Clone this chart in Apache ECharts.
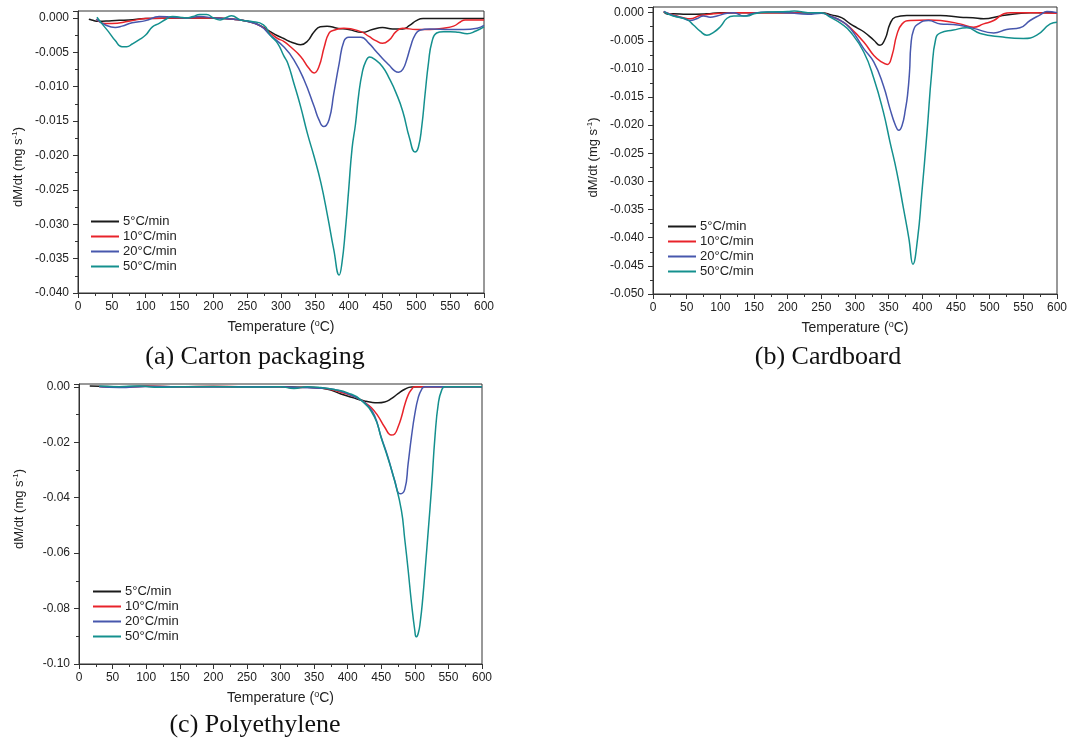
<!DOCTYPE html>
<html>
<head>
<meta charset="utf-8">
<script src="https://cdn.jsdelivr.net/npm/echarts@6/dist/echarts.min.js"></script>
<style>
html,body{margin:0;padding:0;background:#fff;}
#chart{width:1071px;height:740px;}
</style>
</head>
<body>
<div id="chart"></div>
<script>
// ---------- DATA ----------
const seriesNames = ['5°C/min', '10°C/min', '20°C/min', '50°C/min'];
const captions = ['(a) Carton packaging', '(b) Cardboard', '(c) Polyethylene'];
const xTicks = [0, 50, 100, 150, 200, 250, 300, 350, 400, 450, 500, 550, 600];

// (a) Carton packaging: [temperature °C, dM/dt mg/s]
const carton5 = [[16,-0.0002],[20,-0.0003],[30,-0.0005],[50,-0.0004],[75,-0.0003],[100,-0.0001],[150,0],[200,0],[230,-0.0002],[250,-0.0005],[265,-0.0009],[284,-0.002],[295,-0.0026],[304,-0.003],[312,-0.0034],[320,-0.0037],[329,-0.0039],[339,-0.0034],[349,-0.002],[358,-0.0013],[368,-0.0012],[383,-0.0015],[400,-0.0017],[420,-0.0021],[435,-0.0017],[450,-0.0014],[465,-0.0016],[480,-0.0016],[490,-0.0011],[500,-0.0004],[510,-0.0001],[550,-0.0001],[600,-0.0001]];
const carton10 = [[27,-0.0002],[40,-0.0008],[50,-0.0008],[75,-0.0005],[100,-0.0001],[150,0],[200,0],[230,-0.0002],[250,-0.0005],[270,-0.0012],[284,-0.0022],[295,-0.003],[304,-0.0034],[314,-0.0042],[329,-0.0056],[341,-0.0073],[349,-0.008],[356,-0.0071],[364,-0.0042],[371,-0.0022],[378,-0.0018],[393,-0.0015],[418,-0.002],[430,-0.0027],[440,-0.0033],[450,-0.0037],[460,-0.0032],[470,-0.002],[480,-0.0015],[500,-0.0017],[520,-0.0017],[540,-0.0015],[555,-0.0012],[565,-0.0006],[572,-0.0003],[600,-0.0003]];
const carton20 = [[27,-0.0002],[40,-0.001],[55,-0.0014],[65,-0.0012],[80,-0.0007],[100,-0.0004],[120,0.0002],[140,0.0001],[160,0],[180,0.0002],[200,0],[230,-0.0002],[250,-0.0005],[270,-0.0012],[284,-0.0025],[304,-0.0042],[319,-0.0061],[334,-0.009],[349,-0.0129],[356,-0.0148],[363,-0.0158],[371,-0.0148],[378,-0.011],[386,-0.0066],[393,-0.0034],[400,-0.0028],[418,-0.0028],[430,-0.0037],[440,-0.0048],[450,-0.0059],[460,-0.0069],[468,-0.0077],[474,-0.0079],[480,-0.0075],[486,-0.006],[492,-0.004],[498,-0.0025],[505,-0.0018],[520,-0.0016],[550,-0.0017],[570,-0.0017],[590,-0.0015],[600,-0.0011]];
const carton50 = [[28,0.0001],[35,-0.0008],[45,-0.002],[55,-0.0033],[65,-0.0042],[72,-0.0042],[80,-0.0038],[90,-0.0032],[100,-0.0025],[110,-0.0013],[120,-0.0008],[130,-0.0002],[140,0.0002],[150,0.0001],[160,0],[170,0.0002],[180,0.0005],[190,0.0005],[200,0],[210,-0.0003],[220,0.0001],[227,0.0003],[240,-0.0003],[255,-0.0005],[274,-0.001],[284,-0.0025],[295,-0.0037],[304,-0.0055],[310,-0.0066],[319,-0.0095],[329,-0.0129],[339,-0.0168],[349,-0.0202],[359,-0.024],[369,-0.0289],[378,-0.0337],[386,-0.0374],[390,-0.0357],[395,-0.031],[400,-0.025],[405,-0.019],[410,-0.0155],[415,-0.011],[420,-0.008],[425,-0.0064],[431,-0.0057],[438,-0.006],[450,-0.0071],[460,-0.0088],[470,-0.0109],[480,-0.0136],[490,-0.0175],[498,-0.0195],[503,-0.0188],[508,-0.0158],[513,-0.011],[518,-0.0065],[523,-0.0035],[530,-0.0022],[540,-0.002],[550,-0.002],[562,-0.0021],[575,-0.0023],[588,-0.0019],[600,-0.0013]];

// (b) Cardboard
const card5 = [[16,0.0002],[22,-0.0003],[30,-0.0002],[50,-0.0003],[80,-0.0002],[100,0],[150,0],[200,0],[250,0],[265,-0.0004],[280,-0.0009],[293,-0.002],[303,-0.0027],[313,-0.0034],[328,-0.0049],[337,-0.0058],[345,-0.0046],[352,-0.002],[360,-0.0008],[377,-0.0005],[400,-0.0005],[427,-0.0005],[456,-0.0008],[475,-0.0009],[491,-0.0011],[516,-0.0006],[540,-0.0002],[560,0],[600,0]];
const card10 = [[16,0.0001],[30,-0.0004],[45,-0.0009],[55,-0.0011],[70,-0.0005],[100,-0.0001],[120,0],[200,0],[250,0],[263,-0.0006],[280,-0.0015],[293,-0.0027],[313,-0.0052],[328,-0.0076],[340,-0.0088],[348,-0.0092],[355,-0.0076],[362,-0.004],[370,-0.002],[382,-0.0014],[410,-0.0013],[427,-0.0014],[456,-0.002],[476,-0.0026],[491,-0.002],[506,-0.0014],[521,-0.0002],[531,0],[570,0],[600,-0.0001]];
const card20 = [[16,0.0002],[30,-0.0005],[45,-0.001],[55,-0.0014],[65,-0.0011],[75,-0.0006],[85,-0.0008],[95,-0.0006],[110,-0.0001],[120,0],[135,-0.0006],[150,-0.0001],[170,0.0001],[200,0],[230,-0.0003],[250,-0.0001],[263,-0.0006],[280,-0.0015],[293,-0.0028],[313,-0.0064],[328,-0.0088],[342,-0.0129],[352,-0.0171],[360,-0.02],[365,-0.0209],[370,-0.02],[375,-0.0171],[378,-0.0147],[381,-0.0105],[383,-0.0058],[387,-0.0031],[394,-0.002],[409,-0.0014],[427,-0.002],[446,-0.0021],[476,-0.0028],[506,-0.0036],[525,-0.003],[545,-0.0027],[560,-0.0014],[575,-0.0004],[585,0.0002],[600,0]];
const card50 = [[17,0.0001],[30,-0.0006],[50,-0.0012],[60,-0.0022],[70,-0.0033],[80,-0.004],[90,-0.0035],[100,-0.0025],[110,-0.001],[120,-0.0006],[140,-0.0006],[150,-0.0002],[170,0.0001],[200,0.0002],[210,0.0003],[230,0],[250,0],[263,-0.0008],[280,-0.002],[293,-0.0034],[313,-0.007],[328,-0.0117],[342,-0.0176],[352,-0.023],[362,-0.0283],[372,-0.0348],[380,-0.0401],[386,-0.0447],[393,-0.0401],[399,-0.0324],[407,-0.0212],[414,-0.0105],[420,-0.0046],[427,-0.0036],[446,-0.0031],[466,-0.0027],[486,-0.0037],[516,-0.0043],[550,-0.0046],[570,-0.004],[590,-0.002],[600,-0.0017]];

// (c) Polyethylene
const pe5 = [[16,0.0003],[30,0.0002],[60,0],[100,0.0002],[150,0],[200,0],[250,0],[300,0],[340,-0.0002],[360,-0.0005],[375,-0.0012],[390,-0.0026],[410,-0.0041],[425,-0.0051],[435,-0.0056],[445,-0.0058],[455,-0.0055],[465,-0.0043],[475,-0.0025],[485,-0.0009],[495,-0.0001],[520,0],[600,0]];
const pe10 = [[30,0.0001],[60,-0.0002],[100,0.0002],[150,0],[200,0.0002],[250,0],[300,0],[320,-0.0004],[340,-0.0002],[360,-0.0004],[375,-0.001],[390,-0.002],[410,-0.0035],[425,-0.0056],[435,-0.0075],[445,-0.0105],[455,-0.0145],[465,-0.0174],[470,-0.017],[475,-0.0145],[480,-0.011],[485,-0.0065],[490,-0.003],[495,-0.001],[500,0],[600,0]];
const pe20 = [[30,0],[60,-0.0003],[100,0.0001],[150,0],[200,0],[250,0],[300,0],[330,-0.0003],[360,-0.0005],[380,-0.001],[400,-0.0025],[420,-0.0048],[430,-0.0068],[440,-0.0104],[450,-0.0182],[460,-0.0254],[470,-0.0338],[478,-0.0386],[485,-0.037],[490,-0.0278],[495,-0.018],[500,-0.0098],[505,-0.004],[510,-0.001],[515,0],[600,0]];
const pe50 = [[30,0.0003],[60,0],[90,0.0003],[120,-0.0002],[150,0],[200,0.0001],[250,-0.0001],[300,0],[320,-0.0006],[340,0],[360,-0.0003],[380,-0.001],[400,-0.0022],[420,-0.0048],[440,-0.011],[450,-0.0185],[460,-0.0258],[470,-0.034],[480,-0.0446],[485,-0.055],[490,-0.066],[495,-0.078],[500,-0.088],[502,-0.0902],[505,-0.089],[508,-0.085],[512,-0.0758],[516,-0.064],[520,-0.0518],[525,-0.036],[530,-0.018],[535,-0.006],[540,-0.0012],[545,0],[600,0]];

const yAxisSpecs = [
  {min: -0.040, max: 0.001, interval: 0.005, decimals: 3},
  {min: -0.050, max: 0.001, interval: 0.005, decimals: 3},
  {min: -0.10, max: 0.001, interval: 0.02, decimals: 2}
];

// ---------- CHART ----------
const colors = ['#1a1a1a', '#e8232a', '#4757ad', '#14908e'];
const panels = [
  [carton5, carton10, carton20, carton50],
  [card5, card10, card20, card50],
  [pe5, pe10, pe20, pe50]
];
const grids = [
  {left: 78, top: 11, width: 406, height: 282},
  {left: 653, top: 7, width: 404, height: 287},
  {left: 79, top: 384, width: 403, height: 280}
];
const legendPos = [
  {left: 91, top: 215},
  {left: 668, top: 220},
  {left: 93, top: 585}
];
const yNamePadding = [[0, 30, 0, 0], [0, 14, 0, 0], [0, 0, 0, 30]];
const captionPos = [[255, 357], [828, 357], [255, 725]];

const axisColor = '#333';
const font = "'Liberation Sans', Arial, sans-serif";

const xAxes = grids.map((g, i) => ({
  gridIndex: i, type: 'value', min: xTicks[0], max: xTicks[xTicks.length - 1], interval: xTicks[1] - xTicks[0],
  name: 'Temperature ({sup|o}C)', nameLocation: 'middle', nameGap: 26,
  nameTextStyle: {fontSize: 14, color: '#222', fontFamily: font, lineHeight: 16,
    rich: {sup: {fontSize: 9, verticalAlign: 'top', lineHeight: 10, fontFamily: font, color: '#222'}}},
  axisLine: {show: true, onZero: false, lineStyle: {color: axisColor, width: 1}},
  axisTick: {show: true, length: 5, lineStyle: {color: axisColor}},
  minorTick: {show: true, splitNumber: 2, length: 3, lineStyle: {color: axisColor}},
  splitLine: {show: false},
  axisLabel: {fontSize: 12, color: '#222', fontFamily: font, margin: 8}
}));

const yAxes = grids.map((g, i) => ({
  gridIndex: i, type: 'value', min: yAxisSpecs[i].min, max: yAxisSpecs[i].max, interval: yAxisSpecs[i].interval,
  name: 'dM/dt (mg s{sup|-1})', nameLocation: 'middle', nameGap: 52,
  nameTextStyle: {fontSize: 13, color: '#222', fontFamily: font, lineHeight: 15, padding: yNamePadding[i],
    rich: {sup: {fontSize: 8, verticalAlign: 'top', lineHeight: 9, fontFamily: font, color: '#222'}}},
  axisLine: {show: true, onZero: false, lineStyle: {color: axisColor, width: 1}},
  axisTick: {show: true, length: 5, lineStyle: {color: axisColor}},
  minorTick: {show: true, splitNumber: 2, length: 3, lineStyle: {color: axisColor}},
  splitLine: {show: false},
  axisLabel: {fontSize: 12, color: '#222', fontFamily: font, margin: 9,
    formatter: v => (v > 1e-9 ? '' : Math.abs(v) < 1e-9 ? (0).toFixed(yAxisSpecs[i].decimals) : v.toFixed(yAxisSpecs[i].decimals))}
}));

const series = [];
panels.forEach((p, i) => {
  p.forEach((data, k) => {
    series.push({
      name: seriesNames[k], type: 'line', xAxisIndex: i, yAxisIndex: i,
      data: data, showSymbol: false, smooth: 0.5,
      lineStyle: {width: 1.5, color: colors[k]}, itemStyle: {color: colors[k]},
      emphasis: {disabled: true}
    });
  });
});

const option = {
  animation: false,
  backgroundColor: '#fff',
  color: colors,
  grid: grids.map(g => Object.assign({show: true, borderColor: axisColor, borderWidth: 1, backgroundColor: 'transparent'}, g)),
  xAxis: xAxes,
  yAxis: yAxes,
  legend: legendPos.map(p => ({
    left: p.left, top: p.top, orient: 'vertical', icon: 'rect', itemWidth: 28, itemHeight: 2, itemGap: 2,
    padding: 0, selectedMode: false, data: seriesNames,
    textStyle: {fontSize: 13, color: '#222', fontFamily: font, padding: [0, 0, 0, -1]}
  })),
  graphic: captions.map((c, i) => ({
    type: 'text', x: captionPos[i][0], y: captionPos[i][1],
    style: {text: c, fontSize: 26, fontFamily: "'Liberation Serif', 'Times New Roman', serif", fill: '#111', align: 'center', verticalAlign: 'middle'}
  })),
  series: series
};

const chart = echarts.init(document.getElementById('chart'), null, {renderer: 'canvas'});
chart.setOption(option);
</script>
</body>
</html>
